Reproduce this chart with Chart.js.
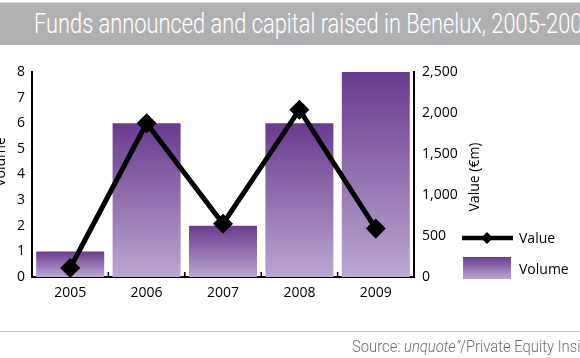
<!DOCTYPE html>
<html>
<head>
<meta charset="utf-8">
<script src="https://cdn.jsdelivr.net/npm/chart.js@4.4.1/dist/chart.umd.min.js"></script>
<style>
  html, body { margin: 0; padding: 0; background: #fff; }
  #wrap { position: relative; width: 580px; height: 358px; overflow: hidden; }
  #chart { position: absolute; left: 0; top: 0; }
  #titleBar {
    position: absolute; left: 0; top: 2px; width: 580px; height: 42px;
    background: #b1b1b3; border-top: 1px solid #d6d6d6;
    white-space: nowrap; overflow: hidden; z-index: 2;
  }
  #titleBar span {
    position: absolute; left: 34px; top: 4px;
    font-family: Roboto, sans-serif; font-weight: 300;
    font-size: 28px; color: #fff;
    transform: scaleX(0.78); transform-origin: left top;
  }
  #rule { position: absolute; left: 0; top: 331px; width: 580px; height: 1px; background: #c4c4c4; }
  #source {
    position: absolute; left: 352px; top: 336px; white-space: nowrap;
    font-family: Roboto, sans-serif; font-weight: 300;
    font-size: 17px; color: #6f6f6f;
    transform: scaleX(0.87); transform-origin: left top;
  }
</style>
</head>
<body>
<div id="wrap">
  <canvas id="chart" width="580" height="358"></canvas>
  <div id="titleBar"><span>Funds announced and capital raised in Benelux, 2005-2009</span></div>
  <div id="rule"></div>
  <div id="source">Source: <i>unquote”</i>/Private Equity Insight</div>
</div>
<script>
var years = ['2005', '2006', '2007', '2008', '2009'];
var volume = [1, 6, 2, 6, 8];
var value = [110, 1875, 650, 2040, 590];

var volumeTicks = [0, 1, 2, 3, 4, 5, 6, 7, 8];
var valueTicks = [0, 500, 1000, 1500, 2000, 2500];

var tickFont = { family: 'Open Sans', size: 14 };

function barGradient(ctx, top, bottom) {
    var g = ctx.createLinearGradient(0, top, 0, bottom);
    g.addColorStop(0, '#683b8e');
    g.addColorStop(1, '#bba7d2');
    return g;
}

// extra drawing: axis titles, boundary ticks, legend
var extras = {
    id: 'extras',
    afterDraw: function (chart) {
        var ctx = chart.ctx;
        var x = chart.scales.x;
        var area = chart.chartArea;
        ctx.save();

        // small ticks between categories, pointing up
        ctx.strokeStyle = '#000';
        ctx.lineWidth = 1.5;
        for (var i = 1; i < years.length; i++) {
            var px = (x.getPixelForValue(i - 1) + x.getPixelForValue(i)) / 2;
            ctx.beginPath();
            ctx.moveTo(px, area.bottom);
            ctx.lineTo(px, area.bottom - 5);
            ctx.stroke();
        }

        ctx.fillStyle = '#000';
        ctx.font = '14px "Open Sans"';
        ctx.textAlign = 'center';
        ctx.textBaseline = 'middle';

        // axis titles
        ctx.save();
        ctx.translate(1, 162);
        ctx.rotate(-Math.PI / 2);
        ctx.fillText('Volume', 0, 0);
        ctx.restore();

        ctx.save();
        ctx.translate(475, 177);
        ctx.rotate(-Math.PI / 2);
        ctx.fillText('Value (€m)', 0, 0);
        ctx.restore();

        // legend
        ctx.strokeStyle = '#000';
        ctx.lineWidth = 4.5;
        ctx.beginPath();
        ctx.moveTo(462, 238);
        ctx.lineTo(513, 238);
        ctx.stroke();
        ctx.beginPath();
        ctx.moveTo(487, 232);
        ctx.lineTo(493, 238);
        ctx.lineTo(487, 244);
        ctx.lineTo(481, 238);
        ctx.closePath();
        ctx.fill();

        ctx.fillStyle = barGradient(ctx, 257, 279);
        ctx.fillRect(463, 257, 48, 22);

        ctx.fillStyle = '#000';
        ctx.textAlign = 'left';
        ctx.fillText('Value', 519, 239);
        ctx.fillText('Volume', 519, 270);
        ctx.restore();
    }
};

var chart = new Chart(document.getElementById('chart'), {
    data: {
        labels: years,
        datasets: [{
            type: 'line',
            label: 'Value',
            data: value,
            yAxisID: 'y1',
            borderColor: '#000',
            backgroundColor: '#000',
            borderWidth: 5,
            pointStyle: 'rectRot',
            pointRadius: 6.5,
            pointHoverRadius: 6.5,
            tension: 0,
            order: 0
        }, {
            type: 'bar',
            label: 'Volume',
            data: volume,
            yAxisID: 'y',
            backgroundColor: function (c) {
                var ys = c.chart.scales.y;
                if (!ys || c.dataIndex === undefined) return '#8a66b0';
                var top = ys.getPixelForValue(volume[c.dataIndex]);
                var bottom = ys.getPixelForValue(0);
                if (!isFinite(top) || !isFinite(bottom) || top === bottom) return '#8a66b0';
                return barGradient(c.chart.ctx, top, bottom);
            },
            barPercentage: 0.89,
            categoryPercentage: 1,
            order: 1
        }]
    },
    options: {
        responsive: false,
        animation: false,
        events: [],
        layout: { padding: { top: 72, left: 0, right: 0, bottom: 0 } },
        plugins: { legend: { display: false }, tooltip: { enabled: false } },
        scales: {
            x: {
                offset: true,
                grid: { display: false, drawTicks: false },
                border: { display: true, color: '#000', width: 2 },
                ticks: { color: '#000', font: tickFont, padding: 8 },
                afterFit: function (s) { s.height = 358 - 277; }
            },
            y: {
                position: 'left',
                min: 0,
                max: 8,
                afterBuildTicks: function (s) {
                    s.ticks = volumeTicks.map(function (v) { return { value: v }; });
                },
                grid: { display: false, drawTicks: false },
                border: { display: true, color: '#000', width: 2 },
                ticks: { color: '#000', font: tickFont, padding: 7 },
                afterFit: function (s) { s.width = 32; }
            },
            y1: {
                position: 'right',
                min: 0,
                max: 2500,
                afterBuildTicks: function (s) {
                    s.ticks = valueTicks.map(function (v) { return { value: v }; });
                },
                grid: { display: false, drawTicks: false },
                border: { display: true, color: '#000', width: 2 },
                ticks: {
                    color: '#000', font: tickFont, padding: 8,
                    callback: function (v) { return v.toLocaleString('en-US'); }
                },
                afterFit: function (s) { s.width = 580 - 414; }
            }
        }
    },
    plugins: [extras]
});
</script>
</body>
</html>
